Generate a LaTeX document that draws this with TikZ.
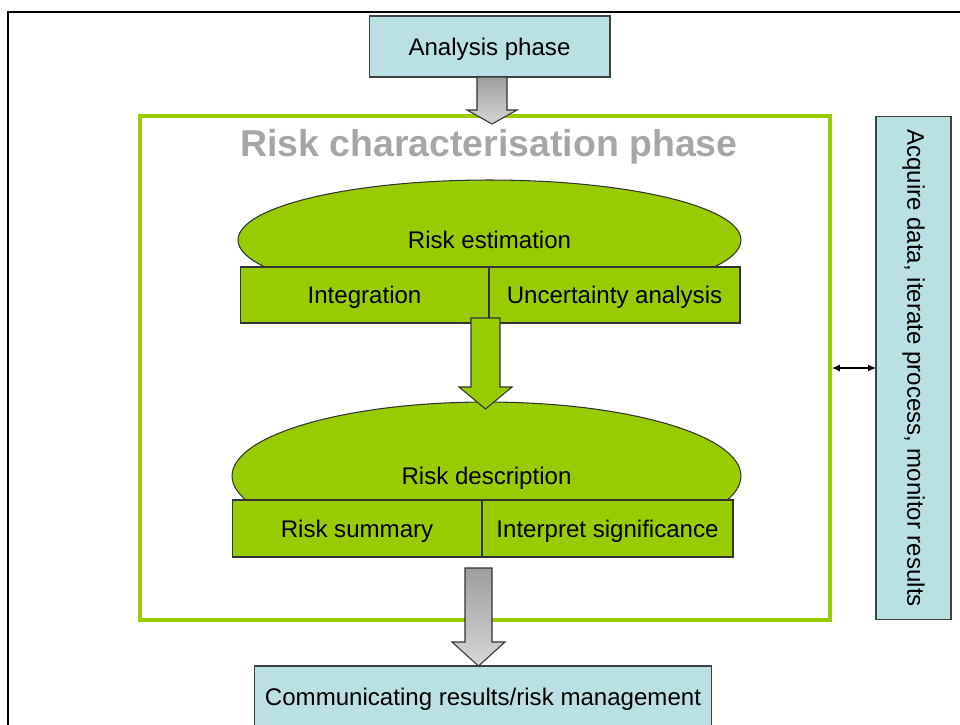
\documentclass[tikz,border=0pt]{standalone}
\usepackage{fontspec}
\setmainfont{Liberation Sans}
\usetikzlibrary{shapes.geometric,calc,arrows.meta}

\definecolor{rcgreen}{RGB}{153,204,0}
\definecolor{boxblue}{RGB}{187,224,227}
\definecolor{titlegray}{RGB}{166,166,166}

% block arrow: [style]{from}{tip}{shaft half width}{head half width}{head length}
\newcommand{\fatarrow}[6][]{%
  \draw[#1] let \p1=(#2), \p2=(#3) in
    ({\x2-#4},{\y1}) -- ({\x2+#4},{\y1}) -- ({\x2+#4},{\y2+#6}) -- ({\x2+#5},{\y2+#6})
    -- (\x2,\y2) -- ({\x2-#5},{\y2+#6}) -- ({\x2-#4},{\y2+#6}) -- cycle;}

\begin{document}
\begin{tikzpicture}[x=0.02cm, y=-0.02cm,
  every node/.style={font=\fontsize{13.7}{16}\selectfont, inner sep=0pt, outer sep=0pt},
  flattext/.style={text depth=0pt},
  bluebox/.style={draw=black!75, fill=boxblue, line width=0.6pt},
  greenpart/.style={draw=black!80, fill=rcgreen, line width=0.6pt, flattext},
  grayarrow/.style={draw=black!80, line width=0.6pt, top color=black!38, bottom color=black!16}]

\clip (0,0) rectangle (960,724);

\draw[line width=0.04cm] (8,740) -- (8,12) -- (970,12);

\node[bluebox, flattext, minimum width=4.82cm, minimum height=1.22cm] (analysis) at (489.5,46.5) {Analysis phase};

\node[draw=rcgreen, line width=0.08cm, minimum width=13.8cm, minimum height=10.08cm] (rcframe) at (485,368) {};
\node[text=titlegray, flattext, font=\bfseries\fontsize{21.3}{25}\selectfont] (rctitle) at (489,143) {Risk characterisation phase};

\node[greenpart, ellipse, minimum width=10.06cm, minimum height=2.4cm] (estimation) at (489.5,240) {Risk estimation};
\node[greenpart, minimum width=4.98cm, minimum height=1.12cm] (integration) at (364.5,295) {Integration};
\node[greenpart, minimum width=5.02cm, minimum height=1.12cm] (uncertainty) at (614.5,295) {Uncertainty analysis};

\node[greenpart, ellipse, minimum width=10.18cm, minimum height=2.96cm] (description) at (486.5,476) {Risk description};
\node[greenpart, minimum width=5.0cm, minimum height=1.14cm] (summary) at (357,528.5) {Risk summary};
\node[greenpart, minimum width=5.02cm, minimum height=1.14cm] (significance) at (607.5,528.5) {Interpret significance};

\node[bluebox, minimum width=1.5cm, minimum height=10.08cm] (acquire) at (913.5,368) {\rotatebox{-90}{Acquire data, iterate process, monitor results}};
\node[bluebox, flattext, minimum width=9.16cm, minimum height=1.24cm] (communicate) at (483,697) {Communicating results/risk management};

% -------- arrows -----------
\coordinate (rctip) at (492,124);
\coordinate (desctip) at (485.5,409);
\coordinate (commtip) at (478.5,666);

\fatarrow[grayarrow]{analysis.south}{rctip}{0.3cm}{0.5cm}{0.28cm}
\fatarrow[greenpart]{[yshift=0.1cm]integration.south}{desctip}{0.29cm}{0.53cm}{0.44cm}
\fatarrow[grayarrow]{[yshift=-0.22cm]summary.south}{commtip}{0.27cm}{0.53cm}{0.48cm}

\draw[{Latex[length=1.6mm,width=1.4mm]}-{Latex[length=1.6mm,width=1.4mm]}, line width=0.6pt] ([xshift=0.04cm]rcframe.east) -- (acquire.west);

\end{tikzpicture}
\end{document}
